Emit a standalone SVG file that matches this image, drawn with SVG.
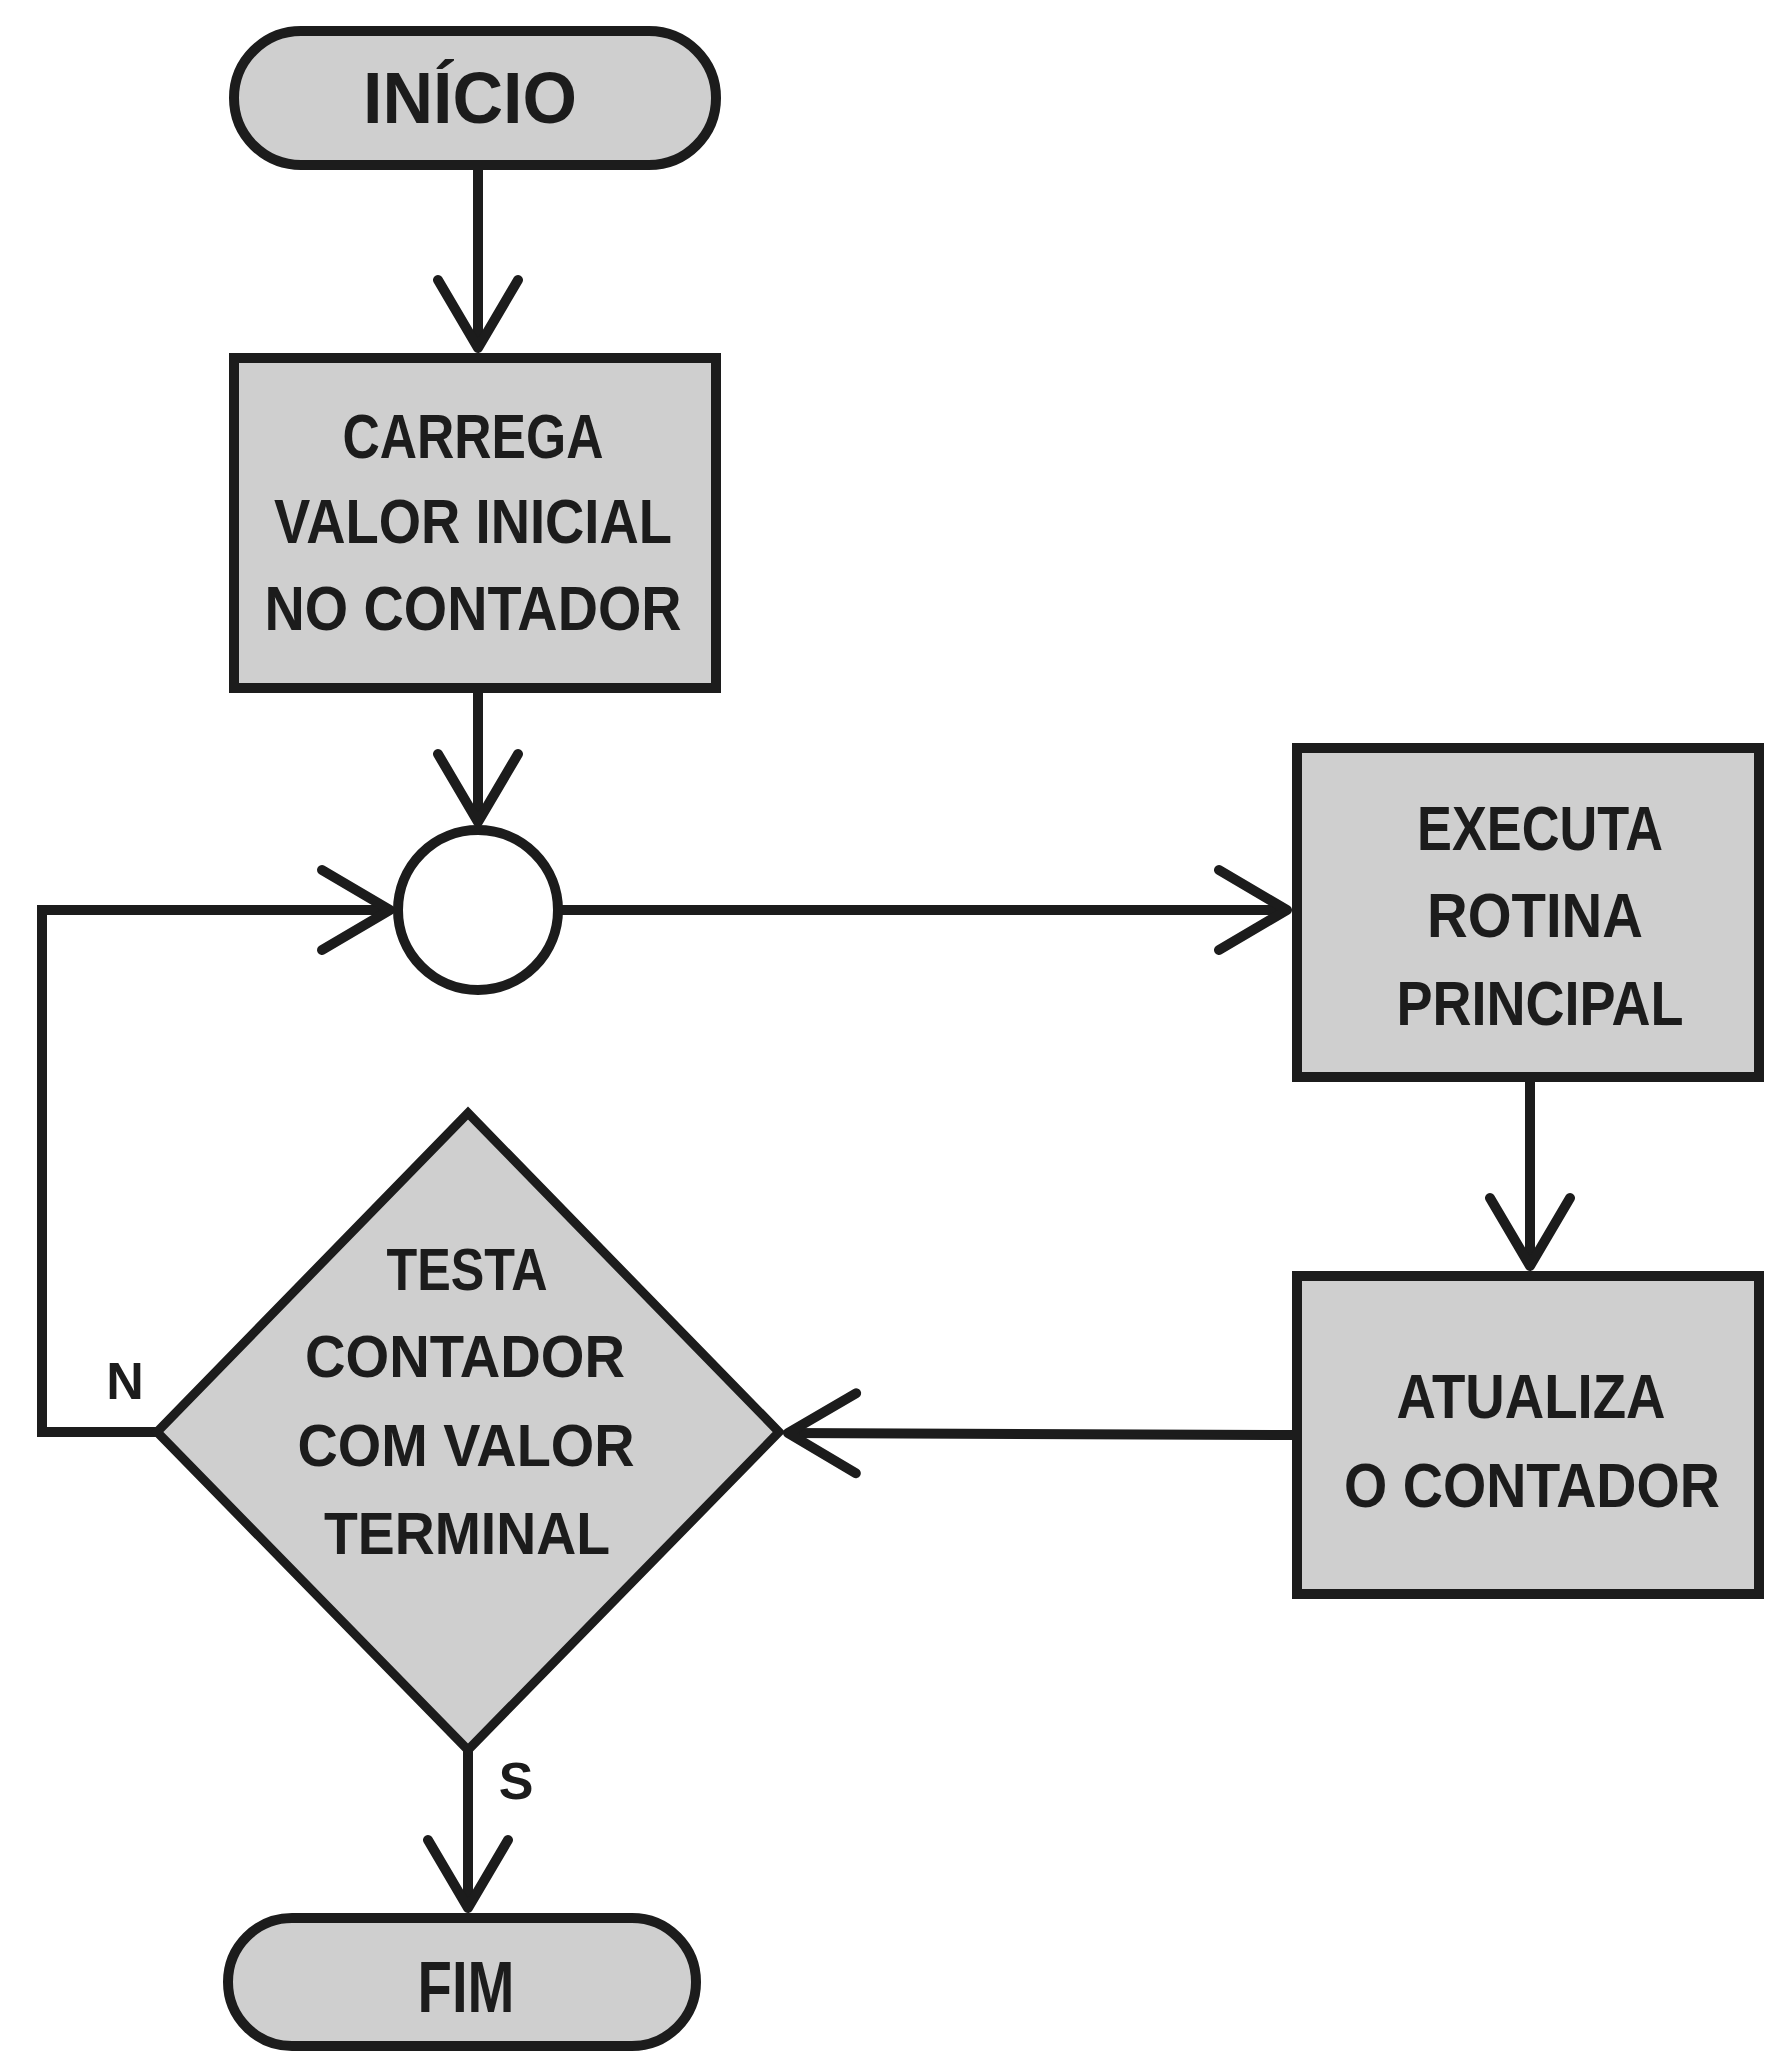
<svg xmlns="http://www.w3.org/2000/svg" width="1766" height="2054" viewBox="0 0 1766 2054">
<style>
.node{fill:#cfcfcf;stroke:#1c1c1c;stroke-width:10}
.dia{fill:#cfcfcf;stroke:#1c1c1c;stroke-width:9;stroke-linejoin:miter}
.ring{fill:#ffffff;stroke:#1c1c1c;stroke-width:10}
.conn{fill:none;stroke:#1c1c1c;stroke-width:10;stroke-linejoin:miter}
.lbl{font-family:"Liberation Sans",Arial,sans-serif;font-weight:bold;fill:#1c1c1c;text-anchor:middle}
.big{font-size:72px}
.mid{font-size:63px}
.sm{font-size:60px}
.tag{font-size:52px}
</style>
<defs>
<marker id="arr" markerUnits="userSpaceOnUse" viewBox="-80 -50 90 100" markerWidth="90" markerHeight="100" refX="0" refY="0" orient="auto" overflow="visible">
<path d="M -68 -40 L 0 0 L -68 40" fill="none" stroke="#1c1c1c" stroke-width="10" stroke-linejoin="round" stroke-linecap="round"/>
</marker>
</defs>
<rect width="1766" height="2054" fill="#ffffff"/>
<g id="connectors">
<path class="conn" d="M 478 165 L 478 348" marker-end="url(#arr)"/>
<path class="conn" d="M 478 688 L 478 822" marker-end="url(#arr)"/>
<path class="conn" d="M 157 1432 L 42 1432 L 42 910 L 390 910" marker-end="url(#arr)"/>
<path class="conn" d="M 558 910 L 1287 910" marker-end="url(#arr)"/>
<path class="conn" d="M 1530 1077 L 1530 1266" marker-end="url(#arr)"/>
<path class="conn" d="M 1297 1435 L 788 1433" marker-end="url(#arr)"/>
<path class="conn" d="M 468 1750 L 468 1908" marker-end="url(#arr)"/>
</g>
<g id="inicio">
<rect class="node" x="234" y="31" width="482" height="134" rx="67" ry="67"/>
<text class="lbl big" x="470" y="123" textLength="214" lengthAdjust="spacingAndGlyphs">INÍCIO</text>
</g>
<g id="carrega">
<rect class="node" x="234" y="358" width="482" height="330"/>
<text class="lbl mid" x="473" y="458" textLength="261" lengthAdjust="spacingAndGlyphs">CARREGA</text>
<text class="lbl mid" x="473" y="543" textLength="398" lengthAdjust="spacingAndGlyphs">VALOR INICIAL</text>
<text class="lbl mid" x="473" y="630" textLength="417" lengthAdjust="spacingAndGlyphs">NO CONTADOR</text>
</g>
<g id="juncao">
<circle class="ring" cx="478" cy="910" r="80"/>
</g>
<g id="executa">
<rect class="node" x="1297" y="748" width="462" height="329"/>
<text class="lbl mid" x="1540" y="850" textLength="246" lengthAdjust="spacingAndGlyphs">EXECUTA</text>
<text class="lbl mid" x="1535" y="937" textLength="216" lengthAdjust="spacingAndGlyphs">ROTINA</text>
<text class="lbl mid" x="1540" y="1025" textLength="287" lengthAdjust="spacingAndGlyphs">PRINCIPAL</text>
</g>
<g id="atualiza">
<rect class="node" x="1297" y="1276" width="462" height="318"/>
<text class="lbl mid" x="1531" y="1418" textLength="269" lengthAdjust="spacingAndGlyphs">ATUALIZA</text>
<text class="lbl mid" x="1532" y="1507" textLength="376" lengthAdjust="spacingAndGlyphs">O CONTADOR</text>
</g>
<g id="testa">
<polygon class="dia" points="468,1113 779,1432 468,1750 157,1432"/>
<text class="lbl sm" x="467" y="1290" textLength="161" lengthAdjust="spacingAndGlyphs">TESTA</text>
<text class="lbl sm" x="465" y="1377" textLength="320" lengthAdjust="spacingAndGlyphs">CONTADOR</text>
<text class="lbl sm" x="466" y="1466" textLength="337" lengthAdjust="spacingAndGlyphs">COM VALOR</text>
<text class="lbl sm" x="467" y="1554" textLength="286" lengthAdjust="spacingAndGlyphs">TERMINAL</text>
</g>
<g id="label-n">
<text class="lbl tag" x="125" y="1399">N</text>
</g>
<g id="label-s">
<text class="lbl tag" x="516" y="1799">S</text>
</g>
<g id="fim">
<rect class="node" x="228" y="1918" width="468" height="128" rx="64" ry="64"/>
<text class="lbl big" x="466" y="2012" textLength="97" lengthAdjust="spacingAndGlyphs">FIM</text>
</g>
</svg>
